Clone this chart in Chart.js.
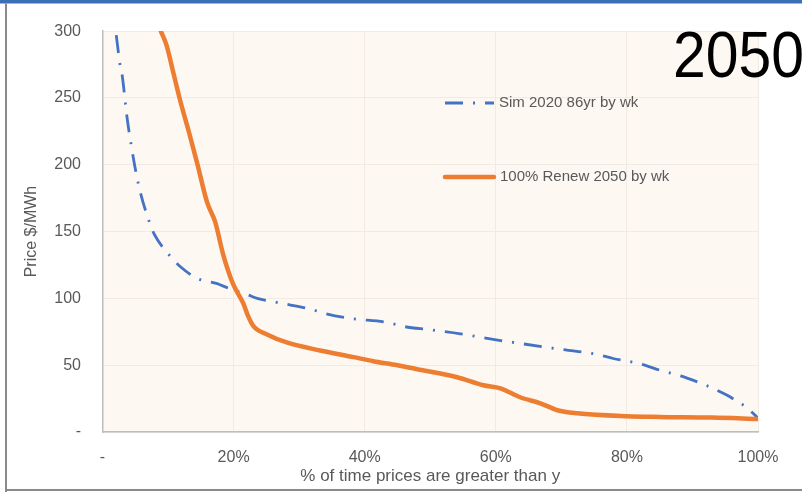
<!DOCTYPE html>
<html>
<head>
<meta charset="utf-8">
<script src="https://cdn.jsdelivr.net/npm/chart.js@4/dist/chart.umd.min.js"></script>
<style>
  html, body { margin: 0; padding: 0; background: #ffffff; overflow: hidden; }
  canvas { display: block; }
</style>
</head>
<body>
<canvas id="chart" width="802" height="492"></canvas>
<script>
// Price duration curves: share of time (%) that prices exceed a given level ($/MWh)
const chartTitle = '2050';
const seriesNames = ['Sim 2020 86yr by wk', '100% Renew 2050 by wk'];

const simShare = [2.1, 2.7, 3.0, 3.7, 4.4, 5.5, 7.3, 7.9, 10.6, 11.8, 14.4, 17.5, 19.0, 22.0, 23.6, 27.1, 31.7, 33.7, 37.8, 43.4, 45.9, 50.0, 54.6, 58.7, 62.7, 70.3, 75.5, 77.9, 82.0, 85.2, 88.2, 91.0, 92.8, 95.3, 96.8, 98.2, 100];
const simPrice = [297, 274, 267, 237, 214, 185, 155, 148, 130, 124, 115, 111, 108, 103, 100, 96.5, 92, 89, 85, 82, 79, 76.5, 73.5, 70, 67, 61.6, 58, 55, 51, 46, 42, 37, 33.4, 27.5, 23, 18.6, 10.4];

const renewShare = [8.9, 9.8, 10.8, 11.8, 13.1, 14.4, 15.95, 17.2, 18.4, 19.9, 21.5, 22.1, 23.0, 25.1, 28.1, 33.2, 38.3, 41.3, 45.0, 48.0, 54.1, 58.1, 60.7, 63.7, 66.8, 69.4, 72.4, 80.0, 85.0, 93.0, 100];
const renewPrice = [300, 289, 269, 249, 226, 202, 172, 157, 133, 111, 96, 88, 79.4, 73, 67, 61, 56, 53, 50, 47, 41, 35, 32.7, 26, 21.5, 16.3, 14, 11.8, 11.3, 10.8, 9.7];

const xTicks = [0, 20, 40, 60, 80, 100];
const yTicks = [0, 50, 100, 150, 200, 250, 300];

const FONT = '"Liberation Sans", Arial, sans-serif';
const TEXT_GREY = '#595959';
const BLUE = '#4472c4';
const ORANGE = '#ed7d31';

const toPoints = (xs, ys) => xs.map((x, i) => ({ x: x, y: ys[i] }));

// Page frame, plot background, big year label and an in-plot legend
const decorations = {
  id: 'decorations',
  beforeDraw(chart) {
    const { ctx, chartArea: a } = chart;
    ctx.save();
    ctx.fillStyle = '#ffffff';
    ctx.fillRect(0, 0, chart.width, chart.height);
    ctx.fillStyle = '#fdf8f2';
    ctx.fillRect(a.left, a.top, a.right - a.left, a.bottom - a.top);
    ctx.restore();
  },
  afterDraw(chart) {
    const { ctx } = chart;
    ctx.save();
    // frame
    ctx.fillStyle = '#3a71b6';
    ctx.fillRect(0, 0, chart.width, 3.5);
    ctx.fillStyle = '#8a8a8a';
    ctx.fillRect(5, 3.5, 2, chart.height);
    ctx.fillRect(5, 489, chart.width, 2);

    // year label
    ctx.save();
    ctx.translate(673, 77);
    ctx.scale(0.92, 1);
    ctx.font = '64px ' + FONT;
    ctx.fillStyle = '#000000';
    ctx.textBaseline = 'alphabetic';
    ctx.textAlign = 'left';
    ctx.fillText(chartTitle, 0, 0);
    ctx.restore();

    // legend entries
    const rows = [
      { ds: chart.data.datasets[0], y: 103, x0: 445, x1: 494, tx: 499 },
      { ds: chart.data.datasets[1], y: 177, x0: 445, x1: 494, tx: 500 }
    ];
    rows.forEach(r => {
      ctx.save();
      ctx.strokeStyle = r.ds.borderColor;
      ctx.lineWidth = r.ds.borderWidth;
      ctx.lineCap = r.ds.borderCapStyle || 'butt';
      ctx.setLineDash(r.ds.borderDash || []);
      ctx.beginPath();
      ctx.moveTo(r.x0, r.y);
      ctx.lineTo(r.x1, r.y);
      ctx.stroke();
      ctx.restore();
      ctx.font = '15px ' + FONT;
      ctx.fillStyle = TEXT_GREY;
      ctx.textBaseline = 'middle';
      ctx.textAlign = 'left';
      ctx.fillText(r.ds.label, r.tx, r.y);
    });
    ctx.restore();
  }
};

new Chart(document.getElementById('chart'), {
  type: 'line',
  data: {
    datasets: [
      {
        label: seriesNames[0],
        data: toPoints(simShare, simPrice),
        borderColor: BLUE,
        borderWidth: 2.8,
        borderDash: [18, 10, 2, 10],
        borderCapStyle: 'butt',
        pointRadius: 0,
        cubicInterpolationMode: 'monotone',
        fill: false,
        order: 1
      },
      {
        label: seriesNames[1],
        data: toPoints(renewShare, renewPrice),
        borderColor: ORANGE,
        borderWidth: 4.5,
        borderCapStyle: 'round',
        borderJoinStyle: 'round',
        pointRadius: 0,
        cubicInterpolationMode: 'monotone',
        fill: false,
        order: 0
      }
    ]
  },
  options: {
    responsive: false,
    animation: false,
    events: [],
    layout: { padding: { top: 28.5, right: 44, left: 0, bottom: 0 } },
    plugins: {
      legend: { display: false },
      title: { display: false },
      tooltip: { enabled: false }
    },
    scales: {
      x: {
        type: 'linear',
        min: 0,
        max: 100,
        afterFit(scale) { scale.height = 60; },
        afterBuildTicks(scale) { scale.ticks = xTicks.map(v => ({ value: v })); },
        ticks: {
          padding: 16,
          maxRotation: 0,
          autoSkip: false,
          color: TEXT_GREY,
          font: { family: FONT, size: 16 },
          callback: v => (v === 0 ? '-' : v + '%')
        },
        grid: { color: '#f1ebe4', lineWidth: 1, drawTicks: false },
        border: { display: true, color: '#bdbdbd', width: 1.5 },
        title: {
          display: true,
          text: '% of time prices are greater than y',
          color: TEXT_GREY,
          font: { family: FONT, size: 17 },
          padding: { top: 0, bottom: 5 }
        }
      },
      y: {
        type: 'linear',
        min: 0,
        max: 300,
        afterFit(scale) { scale.width = 102.5; },
        afterBuildTicks(scale) { scale.ticks = yTicks.map(v => ({ value: v })); },
        ticks: {
          padding: 21.5,
          autoSkip: false,
          color: TEXT_GREY,
          font: { family: FONT, size: 16 },
          callback: v => (v === 0 ? '-' : String(v))
        },
        grid: { color: '#f1ebe4', lineWidth: 1, drawTicks: false },
        border: { display: true, color: '#bdbdbd', width: 1.5 },
        title: {
          display: true,
          text: 'Price $/MWh',
          color: TEXT_GREY,
          font: { family: FONT, size: 16 },
          padding: { top: 22, bottom: 0 }
        }
      }
    }
  },
  plugins: [decorations]
});
</script>
</body>
</html>
